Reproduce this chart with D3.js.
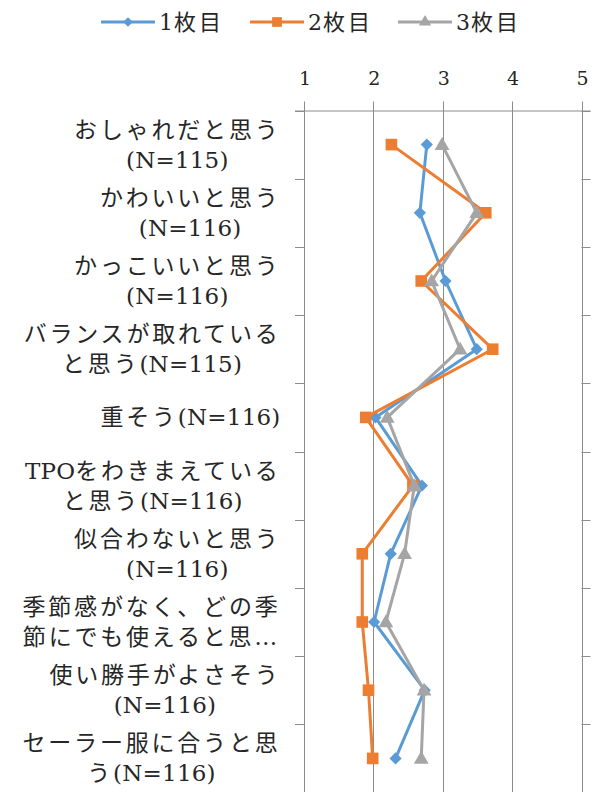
<!DOCTYPE html>
<html><head><meta charset="utf-8">
<script src="https://cdn.jsdelivr.net/npm/d3@7"></script>
<style>body{margin:0;background:#fff}</style>
</head><body><svg id="c" width="599" height="792"></svg>
<script>
const categories = [
  "おしゃれだと思う\n(N=115)",
  "かわいいと思う\n(N=116)",
  "かっこいいと思う\n(N=116)",
  "バランスが取れている\nと思う(N=115)",
  "重そう(N=116)",
  "TPOをわきまえている\nと思う(N=116)",
  "似合わないと思う\n(N=116)",
  "季節感がなく、どの季\n節にでも使えると思…",
  "使い勝手がよさそう\n(N=116)",
  "セーラー服に合うと思\nう(N=116)"
];
const seriesNames = ["1枚目", "2枚目", "3枚目"];
const values1 = [2.77, 2.67, 3.04, 3.49, 2.03, 2.70, 2.25, 2.01, 2.74, 2.32];
const values2 = [2.26, 3.62, 2.69, 3.72, 1.89, 2.57, 1.84, 1.84, 1.93, 1.99];
const values3 = [2.99, 3.49, 2.84, 3.25, 2.20, 2.59, 2.45, 2.18, 2.73, 2.69];
const xTicks = [1, 2, 3, 4, 5];

const colors = ["#5B9BD5", "#ED7D31", "#A5A5A5"];
const symbols = [d3.symbolDiamond2, d3.symbolSquare, d3.symbolTriangle];
const markerSizes = [95, 135, 95];
const legendMarkerSizes = [60, 95, 65];
const series = [values1, values2, values3].map((v, i) => ({name: seriesNames[i], values: v, color: colors[i], symbol: symbols[i], size: markerSizes[i], lsize: legendMarkerSizes[i]}));

const svg = d3.select("#c");
const pLeft = 304, pRight = 581.5, pTop = 110.5, pBottom = 792.5;
const x = d3.scaleLinear().domain([1, 5]).range([pLeft, pRight]);
const y = d3.scaleBand().domain(categories).range([pTop, pBottom]);
const gridColor = "#8c8c8c";
const textColor = "#262626";
const fontMix = "'DejaVu Serif', 'Noto Sans CJK JP', serif";

// split a string into latin / CJK runs with different spacing
function addRuns(textSel, str, cjkSpacing, latinSpacing) {
  const runs = str.match(/[\x00-\x7F]+|[^\x00-\x7F]+/g) || [];
  runs.forEach(r => {
    const latin = /^[\x00-\x7F]/.test(r);
    textSel.append("tspan").attr("letter-spacing", latin ? latinSpacing : cjkSpacing).text(r);
  });
}

// gridlines (vertical)
svg.append("g").selectAll("line").data(xTicks).join("line")
  .attr("x1", d => Math.round(x(d)) + 0.5).attr("x2", d => Math.round(x(d)) + 0.5)
  .attr("y1", pTop - 9).attr("y2", pBottom)
  .attr("stroke", gridColor).attr("stroke-width", 1);

// top axis line
svg.append("line").attr("x1", pLeft - 9).attr("x2", pRight + 9)
  .attr("y1", pTop + 0.5).attr("y2", pTop + 0.5)
  .attr("stroke", gridColor).attr("stroke-width", 1);

// category ticks on both sides
const bounds = categories.map(c => y(c)).concat([pBottom]);
svg.append("g").selectAll("line").data(bounds).join("line")
  .attr("x1", pLeft - 9).attr("x2", pLeft)
  .attr("y1", d => Math.round(d) + 0.5).attr("y2", d => Math.round(d) + 0.5)
  .attr("stroke", gridColor);
svg.append("g").selectAll("line").data(bounds).join("line")
  .attr("x1", pRight).attr("x2", pRight + 9)
  .attr("y1", d => Math.round(d) + 0.5).attr("y2", d => Math.round(d) + 0.5)
  .attr("stroke", gridColor);

// x tick labels
svg.append("g").selectAll("text").data(xTicks).join("text")
  .attr("x", d => x(d) + 1).attr("y", 78)
  .attr("text-anchor", "middle").attr("dominant-baseline", "central")
  .attr("font-family", fontMix).attr("font-size", 19).attr("fill", textColor)
  .text(d => d);

// category labels
const labelRight = 279;
categories.forEach(c => {
  const lines = c.split("\n");
  const cy = y(c) + y.bandwidth() / 2;
  const g = svg.append("g");
  const texts = lines.map((ln, i) => {
    const t = g.append("text")
      .attr("y", cy + (i - (lines.length - 1) / 2) * 30)
      .attr("dominant-baseline", "central")
      .attr("text-anchor", "middle")
      .attr("font-family", fontMix).attr("font-size", 23)
      .attr("fill", textColor);
    addRuns(t, ln, 2.8, 0.2);
    return t;
  });
  const maxW = d3.max(texts, t => t.node().getComputedTextLength());
  texts.forEach(t => t.attr("x", labelRight - maxW / 2 + 1.5));
});

// lines and markers
const line = d3.line().x(d => x(d.v)).y(d => y(d.c) + y.bandwidth() / 2);
series.forEach(s => {
  const pts = s.values.map((v, i) => ({v, c: categories[i]}));
  svg.append("path").datum(pts).attr("d", line)
    .attr("fill", "none").attr("stroke", s.color).attr("stroke-width", 3)
    .attr("stroke-linejoin", "round");
  svg.append("g").selectAll("path").data(pts).join("path")
    .attr("transform", d => `translate(${x(d.v)},${y(d.c) + y.bandwidth() / 2 + (s.symbol === d3.symbolTriangle ? 1 : 0)})`)
    .attr("d", d3.symbol().type(s.symbol).size(s.size))
    .attr("fill", s.color);
});

// legend
const legendX = [101, 250, 398];
series.forEach((s, i) => {
  const g = svg.append("g").attr("transform", `translate(${legendX[i]},22)`);
  g.append("line").attr("x1", 0).attr("x2", 54).attr("stroke", s.color).attr("stroke-width", 3);
  g.append("path").attr("transform", "translate(27,0)")
    .attr("d", d3.symbol().type(s.symbol).size(s.lsize))
    .attr("fill", s.color);
  const t = g.append("text").attr("x", 58).attr("y", 0).attr("dominant-baseline", "central")
    .attr("font-family", fontMix).attr("font-size", 22)
    .attr("fill", textColor);
  addRuns(t, s.name, 3, 1);
});
</script></body></html>
